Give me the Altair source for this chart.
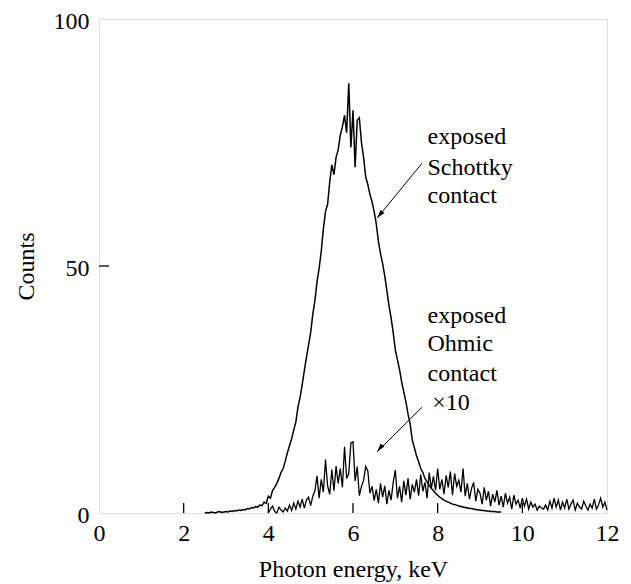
import altair as alt
import pandas as pd

# ---- data ----
E_STEP = 0.05
schottky_start = 2.5
schottky_counts = [
    0.0, 0.1, 0.0, 0.2, 0.1, 0.0, 0.2, 0.3, 0.1, 0.2,
    0.3, 0.2, 0.4, 0.3, 0.5, 0.4, 0.6, 0.5, 0.7, 0.6,
    0.9, 0.8, 1.1, 1.0, 1.3, 1.2, 1.6, 1.5, 2.2, 2.0,
    3.4, 3.0, 4.6, 5.2, 6.0, 7.0, 8.2, 9.0, 10.5, 12.2,
    13.6, 15.0, 16.8, 18.4, 21.5, 23.4, 26.0, 28.8, 31.5, 34.0,
    36.5, 40.2, 43.0, 46.8, 49.5, 53.0, 57.5, 61.0, 62.5, 67.0,
    70.5, 68.5, 72.0, 73.5, 76.5, 78.2, 80.5, 77.0, 87.0, 74.0,
    81.5, 70.0, 79.5, 80.0, 75.0, 72.0, 68.0, 66.5, 64.5, 63.0,
    61.0, 58.5, 55.0, 52.5, 50.5, 48.0, 45.0, 42.0, 39.5, 36.5,
    33.0, 31.0, 29.0, 26.5, 24.5, 22.5, 20.0, 18.0, 14.8, 13.2,
    11.6, 10.4, 9.0, 8.2, 7.0, 6.3, 5.6, 5.0, 4.5, 4.0,
    3.6, 3.2, 2.9, 2.6, 2.4, 2.2, 2.0, 1.8, 1.7, 1.6,
    1.4, 1.3, 1.2, 1.1, 1.0, 0.9, 0.9, 0.8, 0.7, 0.6,
    0.6, 0.5, 0.5, 0.4, 0.4, 0.3, 0.3, 0.3, 0.2, 0.2,
    0.2,
]

ohmic_start = 4.0
ohmic_counts = [
    0.0, 0.8, 1.4, 0.3, 0.0, 1.2, 0.6, 0.2, 1.0, 0.4,
    1.6, 0.5, 2.0, 0.8, 2.4, 1.2, 2.8, 1.0, 2.6, 3.2,
    1.5, 3.4, 4.5, 7.5, 3.0, 6.8, 4.2, 10.8, 5.5, 3.8,
    8.8, 4.5, 9.5, 6.0, 9.0, 5.2, 13.4, 7.0, 8.0, 14.2,
    14.4, 6.5, 9.4, 3.5, 5.4, 6.6, 9.4, 8.5, 4.0, 5.4,
    2.5, 4.8, 2.0, 6.0, 3.2, 5.5, 1.8, 4.6, 2.6, 6.2,
    8.7, 3.0, 5.4, 2.2, 6.5, 3.6, 7.0, 2.8, 5.8, 4.2,
    6.8, 3.5, 7.8, 4.4, 6.2, 3.0, 8.2, 5.0, 7.4, 4.6,
    9.0, 4.8, 6.8, 3.8, 7.6, 5.2, 8.4, 3.6, 8.0, 5.4,
    6.6, 4.2, 9.0, 3.4, 6.0, 2.8, 5.0, 6.2, 2.4, 4.8,
    4.0, 1.8, 5.2, 2.6, 4.4, 1.4, 3.8, 2.2, 4.6, 1.6,
    3.4, 1.2, 4.0, 2.0, 3.2, 0.8, 3.6, 1.8, 2.6, 1.0,
    3.0, 1.4, 2.8, 0.8, 2.2, 1.2, 1.8, 0.6, 1.4, 1.0,
    0.8, 1.6, 0.6, 2.4, 1.0, 3.0, 1.2, 2.6, 0.6, 2.2,
    1.0, 2.8, 0.8, 1.8, 2.6, 0.6, 2.0, 1.2, 0.8, 2.4,
    1.4, 0.6, 1.8, 1.0, 2.8, 0.8, 1.6, 3.0, 1.2, 2.2,
    0.6,
]

x_ticks = [0, 2, 4, 6, 8, 10, 12]
y_ticks = [0, 50, 100]

label_text = ["exposed", "Schottky", "contact", "exposed", "Ohmic", "contact", "\u00d710"]
label_x = [7.76, 7.76, 7.76, 7.76, 7.76, 7.76, 7.87]
label_y = [74.6, 68.5, 62.7, 38.5, 32.7, 26.8, 20.8]

arrow_x1 = [7.63, 7.63]
arrow_y1 = [70.8, 21.4]
arrow_x2 = [6.57, 6.57]
arrow_y2 = [59.7, 12.4]

FONT = "Liberation Serif"
W, H = 508, 494

schottky = pd.DataFrame({
    "E": [round(schottky_start + i * E_STEP, 3) for i in range(len(schottky_counts))],
    "C": schottky_counts,
})
ohmic = pd.DataFrame({
    "E": [round(ohmic_start + i * E_STEP, 3) for i in range(len(ohmic_counts))],
    "C": ohmic_counts,
})
labels = pd.DataFrame({"t": label_text, "x": label_x, "y": label_y})
arrows = pd.DataFrame({"x": arrow_x1, "y": arrow_y1, "x2": arrow_x2, "y2": arrow_y2})
xt = pd.DataFrame({"v": x_ticks[1:-1]})
yt = pd.DataFrame({"v": [50]})

xscale = alt.Scale(domain=[0, 12], nice=False, zero=False)
yscale = alt.Scale(domain=[0, 100], nice=False, zero=False)

xaxis = alt.Axis(values=x_ticks, ticks=False, domain=False, grid=False,
                 labelFlush=False, labelOverlap=False,
                 labelFont=FONT, labelFontSize=24, labelPadding=8, labelColor="black",
                 title="Photon energy, keV", titleFont=FONT, titleFontSize=24,
                 titleFontWeight="normal", titleColor="black", titlePadding=12)
yaxis = alt.Axis(values=y_ticks, ticks=False, domain=False, grid=False,
                 labelFlush=False, labelOverlap=False, labelOffset=2,
                 labelFont=FONT, labelFontSize=24, labelPadding=10, labelColor="black",
                 title="Counts", titleFont=FONT, titleFontSize=24,
                 titleFontWeight="normal", titleColor="black", titlePadding=15)

line1 = alt.Chart(schottky).mark_line(color="black", strokeWidth=1.5).encode(
    x=alt.X("E:Q", scale=xscale, axis=xaxis),
    y=alt.Y("C:Q", scale=yscale, axis=yaxis),
)
line2 = alt.Chart(ohmic).mark_line(color="black", strokeWidth=1.3).encode(
    x=alt.X("E:Q", scale=xscale),
    y=alt.Y("C:Q", scale=yscale),
)

xticks = alt.Chart(xt).mark_rule(color="black", strokeWidth=1.3).encode(
    x=alt.X("v:Q", scale=xscale),
    y=alt.value(H),
    y2=alt.value(H - 10),
)
yticks = alt.Chart(yt).mark_rule(color="black", strokeWidth=1.3).encode(
    y=alt.Y("v:Q", scale=yscale),
    x=alt.value(0),
    x2=alt.value(10),
)

texts = alt.Chart(labels).mark_text(font=FONT, fontSize=24, align="left",
                                    baseline="alphabetic", color="black").encode(
    x=alt.X("x:Q", scale=xscale),
    y=alt.Y("y:Q", scale=yscale),
    text="t:N",
)

arrow_lines = alt.Chart(arrows).mark_rule(color="black", strokeWidth=1).encode(
    x=alt.X("x:Q", scale=xscale),
    y=alt.Y("y:Q", scale=yscale),
    x2="x2:Q",
    y2="y2:Q",
)
arrow_heads = alt.Chart(arrows).mark_point(
    shape="M0,0 L0.28,1 L-0.28,1 Z", filled=True, color="black",
    size=300, angle=219, opacity=1,
).encode(
    x=alt.X("x2:Q", scale=xscale),
    y=alt.Y("y2:Q", scale=yscale),
)

chart = alt.layer(line1, line2, xticks, yticks, arrow_lines, arrow_heads, texts).properties(
    width=W, height=H,
    autosize=alt.AutoSizeParams(type="none"),
    padding={"left": 91, "top": 11, "right": 16, "bottom": 71},
).configure_view(stroke="black", strokeWidth=2).configure(background="white")

chart.save("out.html", embed_options={"renderer": "svg", "actions": False})
